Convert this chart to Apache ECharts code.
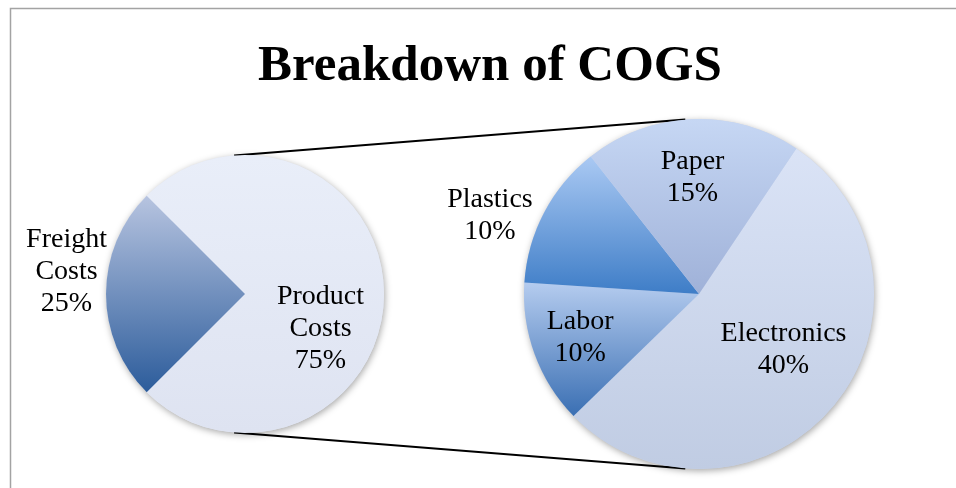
<!DOCTYPE html>
<html>
<head>
<meta charset="utf-8">
<script src="https://cdn.jsdelivr.net/npm/echarts@6/dist/echarts.min.js"></script>
<style>
  html, body { margin: 0; padding: 0; background: #ffffff; }
  #chart { width: 956px; height: 488px; }
</style>
</head>
<body>
<div id="chart"></div>
<script>
// ---- data ----
const titleText = 'Breakdown of COGS';
const mainCategories = ['Product Costs', 'Freight Costs'];
const mainValues = [75, 25];
const detailCategories = ['Electronics', 'Labor', 'Plastics', 'Paper'];
const detailValues = [40, 10, 10, 15];

// ---- layout & style ----
const W = 956, H = 488;
const leftPie = { cx: 245, cy: 294, r: 139, startAngle: 135 };
const rightPie = { cx: 699, cy: 294, r: 175, startAngle: 56.2 };
const connectorAngle = 4.5; // degrees from vertical toward the left
const labelFont = 'Liberation Serif';
const labelSize = 28;
const labelLineHeight = 32;

const mainColors = [
  ['#e9eef9', '#dee3f1'],
  ['#b7c4e0', '#2c5c9b']
];
const detailColors = [
  ['#dae3f6', '#c0cce3'],
  ['#b5ccef', '#3a6fb3'],
  ['#aac9f3', '#3e7dc7'],
  ['#c6d7f4', '#9fb1d8']
];
const mainLabelShift = [[3, 35], [-106, -22]];
const detailLabelShift = [[15, -2], [-34, 12], [-129, -36], [-3, -26]];

function grad(c) {
  return new echarts.graphic.LinearGradient(0, 0, 0, 1, [
    { offset: 0, color: c[0] },
    { offset: 1, color: c[1] }
  ]);
}

function pieSeries(names, values, colors, pie, shifts, splitName) {
  return {
    type: 'pie',
    center: [pie.cx, pie.cy],
    radius: [0, pie.r],
    startAngle: pie.startAngle,
    clockwise: true,
    silent: true,
    avoidLabelOverlap: false,
    z: 3,
    data: names.map((n, i) => ({
      name: n,
      value: values[i],
      itemStyle: { color: grad(colors[i]) }
    })),
    itemStyle: { borderWidth: 0, borderRadius: 0 },
    label: {
      show: true,
      position: 'inside',
      color: '#000',
      fontFamily: labelFont,
      fontSize: labelSize,
      lineHeight: labelLineHeight,
      align: 'center',
      textBorderWidth: 0,
      formatter: p => (splitName ? p.name.replace(' ', '\n') : p.name) + '\n' + p.value + '%'
    },
    labelLine: { show: false },
    labelLayout: params => ({ dx: shifts[params.dataIndex][0], dy: shifts[params.dataIndex][1] }),
    emphasis: { disabled: true }
  };
}

function edgePoint(pie, sign) {
  const a = connectorAngle * Math.PI / 180;
  return [pie.cx - pie.r * Math.sin(a), pie.cy + sign * pie.r * Math.cos(a)];
}

const chart = echarts.init(document.getElementById('chart'), null, { renderer: 'canvas' });
chart.setOption({
  animation: false,
  backgroundColor: '#ffffff',
  title: {
    text: titleText,
    left: 490,
    top: 41,
    textAlign: 'center',
    padding: 0,
    textStyle: {
      fontFamily: labelFont,
      fontWeight: 'bold',
      fontSize: 51,
      color: '#000'
    }
  },
  graphic: [
    {
      type: 'rect', z: 0, silent: true,
      shape: { x: 10.5, y: 8.5, width: W + 20, height: H + 20 },
      style: { fill: null, stroke: '#a3a3a3', lineWidth: 1.5 }
    },
    {
      type: 'circle', z: 1, silent: true,
      shape: { cx: leftPie.cx, cy: leftPie.cy, r: leftPie.r },
      style: { fill: '#e4e8f4', shadowBlur: 7, shadowColor: 'rgba(0,0,0,0.35)', shadowOffsetX: 1, shadowOffsetY: 2 }
    },
    {
      type: 'circle', z: 1, silent: true,
      shape: { cx: rightPie.cx, cy: rightPie.cy, r: rightPie.r },
      style: { fill: '#c8d3ea', shadowBlur: 7, shadowColor: 'rgba(0,0,0,0.35)', shadowOffsetX: 1, shadowOffsetY: 2 }
    },
    {
      type: 'line', z: 1, silent: true,
      shape: (() => { const p = edgePoint(leftPie, -1), q = edgePoint(rightPie, -1); return { x1: p[0], y1: p[1], x2: q[0], y2: q[1] }; })(),
      style: { stroke: '#000', lineWidth: 2 }
    },
    {
      type: 'line', z: 1, silent: true,
      shape: (() => { const p = edgePoint(leftPie, 1), q = edgePoint(rightPie, 1); return { x1: p[0], y1: p[1], x2: q[0], y2: q[1] }; })(),
      style: { stroke: '#000', lineWidth: 2 }
    }
  ],
  series: [
    pieSeries(mainCategories, mainValues, mainColors, leftPie, mainLabelShift, true),
    pieSeries(detailCategories, detailValues, detailColors, rightPie, detailLabelShift, false)
  ]
});
</script>
</body>
</html>
